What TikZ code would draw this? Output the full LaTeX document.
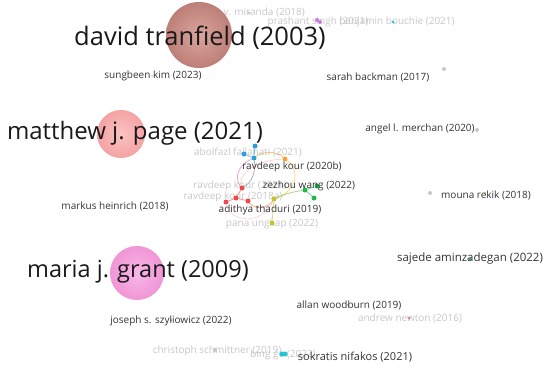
\documentclass[tikz,border=0pt]{standalone}
\usepackage{fontspec}
\setmainfont{Open Sans}
\begin{document}
\begin{tikzpicture}[x=1pt,y=-1pt,
  lbl/.style={inner sep=0pt,text=black!80,font=\fontsize{10}{12}\selectfont},
  faint/.style={inner sep=0pt,text=black!22,font=\fontsize{10}{12}\selectfont},
  big/.style={inner sep=0pt,text=black!90,font=\fontsize{25.5}{30}\selectfont},
  dot/.style={circle,inner sep=0pt,minimum size=5pt},
  tiny/.style={circle,inner sep=0pt,minimum size=3pt},
  edge/.style={line width=0.8pt,opacity=0.6}]
\useasboundingbox (0,0) rectangle (550,372);
\definecolor{cblue}{HTML}{2D9CDB}
\definecolor{corange}{HTML}{F5A23C}
\definecolor{cgreen}{HTML}{1EB94A}
\definecolor{cred}{HTML}{F04848}
\definecolor{cyel}{HTML}{C3C32A}
\definecolor{cgray}{HTML}{C8C8C8}
\definecolor{ccyan}{HTML}{20C8D8}
\definecolor{cpurple}{HTML}{C878E0}
\definecolor{dtin}{HTML}{D9A59E}
\definecolor{dtout}{HTML}{BD7F77}
\definecolor{mpin}{HTML}{FBC3C3}
\definecolor{mpout}{HTML}{F5A2A2}
\definecolor{mgin}{HTML}{F8B8E8}
\definecolor{mgout}{HTML}{F095D5}

% faint labels (drawn first)
\node[faint] (mir) at (241,13) {alejandro v. miranda (2018)};
\node[faint] (pra) at (318,22) {prashant singh (2021)};
\node[faint] (bou) at (397,22) {benjamin bouchie (2021)};
\node[faint] (abo) at (248,152) {abolfazl fallahati (2021)};
\node[faint] (rk21) at (240,186) {ravdeep kour (2021)};
\node[faint] (rk18) at (233,197) {ravdeep kour (2018a)};
\node[faint] (pana) at (272,224) {pana ungkap (2022)};
\node[faint] (new) at (410,318) {andrew newton (2016)};
\node[faint] (chr) at (217,351) {christoph schmittner (2019)};
\node[faint] (bing) at (283,355) {bing ge (2022)};

% small dots for isolated authors
\node[tiny,fill=cgray] (dmir) at (249,13) {};
\node[dot,fill=cpurple,minimum size=4pt] (dpra) at (317,20) {};
\node[dot,fill=cpurple,minimum size=4pt] (dpra2) at (320,22) {};
\node[tiny,fill=ccyan] (dbou) at (393,22) {};
\node[tiny,fill=cgray,minimum size=2pt] (dsun) at (152,76) {};
\node[tiny,fill=cyel,minimum size=2pt] (dsar) at (379,76) {};
\node[tiny,fill=cgray,minimum size=4pt] (dsar2) at (444,69) {};
\node[tiny,fill=cpurple,minimum size=2pt] (dang) at (418,128) {};
\node[tiny,fill=cgray,minimum size=4pt] (dang2) at (477,130) {};
\node[tiny,fill=cgray,minimum size=4pt] (dmou) at (430,193) {};
\node[tiny,fill=corange,minimum size=2pt] (dmou2) at (485,193) {};
\node[tiny,fill=cgreen,minimum size=3pt] (dsaj) at (470,259) {};
\node[tiny,fill=cblue,minimum size=2pt] (dall) at (348,305) {};
\node[tiny,fill=cred!70,minimum size=3pt] (dnew) at (409,318) {};
\node[tiny,fill=cred,minimum size=2pt] (djos) at (171,320) {};
\node[tiny,fill=cgray,minimum size=4pt] (dchr) at (215,350) {};
\node[dot,fill=ccyan,minimum size=5pt] (dbing) at (282,354) {};
\node[dot,fill=ccyan,minimum size=5pt] (dbing2) at (285,354) {};

% cluster nodes
\node[dot,fill=cblue] (b1) at (255,146) {};
\node[dot,fill=cblue] (b2) at (244,154) {};
\node[dot,fill=cblue] (b3) at (254,158) {};
\node[dot,fill=corange] (o1) at (285,159) {};
\node[dot,fill=cred] (r1) at (242,188) {};
\node[dot,fill=cred] (r2) at (236,198) {};
\node[dot,fill=cred] (r3) at (226,202) {};
\node[dot,fill=cred] (r4) at (248,201) {};
\node[dot,fill=cgreen] (g1) at (305,190) {};
\node[dot,fill=cgreen] (g2) at (317,186) {};
\node[dot,fill=cgreen] (g3) at (314,198) {};
\node[dot,fill=cyel] (y1) at (274,199) {};
\node[dot,fill=cyel] (y2) at (272,223) {};

% cluster edges
\draw[edge,cblue] (b1) -- (b3);
\draw[edge,cblue] (b2) -- (b3);
\draw[edge,corange] (b3) .. controls (265,150) and (278,152) .. (o1);
\draw[edge,corange!70!yellow] (o1) .. controls (300,170) and (298,190) .. (y1);
\draw[edge,cpurple!70!cred] (b3) .. controls (238,165) and (234,178) .. (r1);
\draw[edge,cblue!60!cred] (b3) .. controls (256,172) and (252,182) .. (r1);
\draw[edge,cred] (r1) -- (r2);
\draw[edge,cred] (r2) -- (r3);
\draw[edge,cred] (r2) -- (r4);
\draw[edge,cred!40] (r1) .. controls (238,170) and (262,160) .. (o1);
\draw[edge,corange!50!cred] (r4) .. controls (255,210) and (268,208) .. (y1);
\draw[edge,cred!35] (r3) .. controls (230,222) and (262,226) .. (y1);
\draw[edge,cgreen] (g1) -- (g2);
\draw[edge,cgreen] (g1) -- (g3);
\draw[edge,cgreen!50!cyel] (g1) .. controls (292,192) and (282,195) .. (y1);
\draw[edge,cyel] (y1) -- (y2);

% big circles
\shade[inner color=dtin,outer color=dtout] (199,35) circle (33);
\shade[inner color=mpin,outer color=mpout] (121,134) circle (24);
\shade[inner color=mgin,outer color=mgout] (137,273) circle (27);

% dark labels
\node[big] (dt) at (200,38) {david tranfield (2003)};
\node[big,font=\fontsize{24}{28}\selectfont] (mp) at (135,133) {matthew j. page (2021)};
\node[big,font=\fontsize{23.5}{28}\selectfont] (mg) at (138,272) {maria j. grant (2009)};
\node[lbl] (sun) at (153,76) {sungbeen kim (2023)};
\node[lbl] (sar) at (378,77) {sarah backman (2017)};
\node[lbl] (ang) at (420,129) {angel l. merchan (2020)};
\node[lbl] (mou) at (486,195) {mouna rekik (2018)};
\node[lbl] (rk20) at (292,167) {ravdeep kour (2020b)};
\node[lbl] (zez) at (309,186) {zezhou wang (2022)};
\node[lbl] (adi) at (270,210) {adithya thaduri (2019)};
\node[lbl] (mar) at (115,206) {markus heinrich (2018)};
\node[lbl,font=\fontsize{11.5}{13}\selectfont] (saj) at (470,259) {sajede aminzadegan (2022)};
\node[lbl] (all) at (349,305) {allan woodburn (2019)};
\node[lbl] (jos) at (171,321) {joseph s. szyliowicz (2022)};
\node[lbl,font=\fontsize{11}{13}\selectfont] (sok) at (355,357) {sokratis nifakos (2021)};
\end{tikzpicture}
\end{document}
